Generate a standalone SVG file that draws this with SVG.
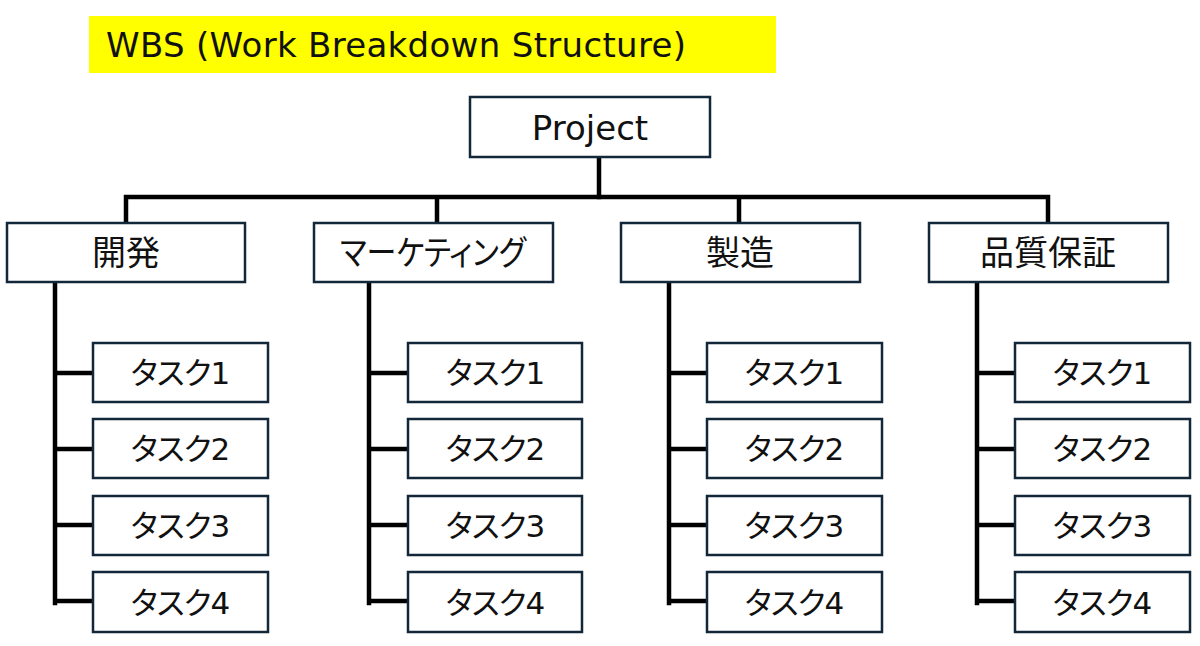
<svg xmlns="http://www.w3.org/2000/svg" width="1200" height="646" viewBox="0 0 1200 646">
<style>
.box{fill:#ffffff;stroke:#13273a;stroke-width:2.5}
.conn{fill:none;stroke:#000000;stroke-width:4.5;stroke-linejoin:miter;stroke-linecap:square}
.lbl{font-family:"DejaVu Sans","Noto Sans CJK JP",sans-serif;fill:#111111;text-anchor:middle;font-feature-settings:"palt"}
.l2{font-size:34px}
.task{font-size:31px;letter-spacing:-1px}
</style>
<rect width="1200" height="646" fill="#ffffff"/>
<g id="title">
<rect x="89" y="16" width="687" height="57" fill="#ffff00"/>
<text x="106" y="57" font-family="DejaVu Sans, sans-serif" font-size="34" fill="#111111" textLength="580">WBS (Work Breakdown Structure)</text>
</g>
<g id="connectors">
<path class="conn" d="M599,157 V197"/>
<path class="conn" d="M126,223 V197 H1048 V223 M437,197 V223 M739,197 V223"/>
<path class="conn" d="M55,283 V603 M55,373 H93 M55,449 H93 M55,525 H93 M55,601 H93"/>
<path class="conn" d="M369,283 V603 M369,373 H408 M369,449 H408 M369,525 H408 M369,601 H408"/>
<path class="conn" d="M669,283 V603 M669,373 H707 M669,449 H707 M669,525 H707 M669,601 H707"/>
<path class="conn" d="M977,283 V603 M977,373 H1015 M977,449 H1015 M977,525 H1015 M977,601 H1015"/>
</g>
<g id="project">
<rect class="box" x="470" y="97" width="240" height="60"/>
<text class="lbl l2" x="590" y="140">Project</text>
</g>
<g id="dev">
<rect class="box" x="7" y="223" width="238" height="59"/>
<text class="lbl l2" x="126" y="265">開発</text>
</g>
<g id="marketing">
<rect class="box" x="314" y="223" width="239" height="59"/>
<text class="lbl l2" x="433" y="265" textLength="186" lengthAdjust="spacingAndGlyphs">マーケティング</text>
</g>
<g id="manufacturing">
<rect class="box" x="621" y="223" width="239" height="59"/>
<text class="lbl l2" x="740" y="265">製造</text>
</g>
<g id="qa">
<rect class="box" x="929" y="223" width="239" height="59"/>
<text class="lbl l2" x="1048" y="265">品質保証</text>
</g>
<g id="dev-tasks">
<g id="dev-t1"><rect class="box" x="93" y="343" width="175" height="59"/><text class="lbl task" x="180" y="384">タスク1</text></g>
<g id="dev-t2"><rect class="box" x="93" y="419" width="175" height="59"/><text class="lbl task" x="180" y="460">タスク2</text></g>
<g id="dev-t3"><rect class="box" x="93" y="496" width="175" height="59"/><text class="lbl task" x="180" y="537">タスク3</text></g>
<g id="dev-t4"><rect class="box" x="93" y="572" width="175" height="60"/><text class="lbl task" x="180" y="614">タスク4</text></g>
</g>
<g id="mkt-tasks">
<g id="mkt-t1"><rect class="box" x="408" y="343" width="174" height="59"/><text class="lbl task" x="495" y="384">タスク1</text></g>
<g id="mkt-t2"><rect class="box" x="408" y="419" width="174" height="59"/><text class="lbl task" x="495" y="460">タスク2</text></g>
<g id="mkt-t3"><rect class="box" x="408" y="496" width="174" height="59"/><text class="lbl task" x="495" y="537">タスク3</text></g>
<g id="mkt-t4"><rect class="box" x="408" y="572" width="174" height="60"/><text class="lbl task" x="495" y="614">タスク4</text></g>
</g>
<g id="mfg-tasks">
<g id="mfg-t1"><rect class="box" x="707" y="343" width="175" height="59"/><text class="lbl task" x="794" y="384">タスク1</text></g>
<g id="mfg-t2"><rect class="box" x="707" y="419" width="175" height="59"/><text class="lbl task" x="794" y="460">タスク2</text></g>
<g id="mfg-t3"><rect class="box" x="707" y="496" width="175" height="59"/><text class="lbl task" x="794" y="537">タスク3</text></g>
<g id="mfg-t4"><rect class="box" x="707" y="572" width="175" height="60"/><text class="lbl task" x="794" y="614">タスク4</text></g>
</g>
<g id="qa-tasks">
<g id="qa-t1"><rect class="box" x="1015" y="343" width="175" height="59"/><text class="lbl task" x="1102" y="384">タスク1</text></g>
<g id="qa-t2"><rect class="box" x="1015" y="419" width="175" height="59"/><text class="lbl task" x="1102" y="460">タスク2</text></g>
<g id="qa-t3"><rect class="box" x="1015" y="496" width="175" height="59"/><text class="lbl task" x="1102" y="537">タスク3</text></g>
<g id="qa-t4"><rect class="box" x="1015" y="572" width="175" height="60"/><text class="lbl task" x="1102" y="614">タスク4</text></g>
</g>
</svg>
